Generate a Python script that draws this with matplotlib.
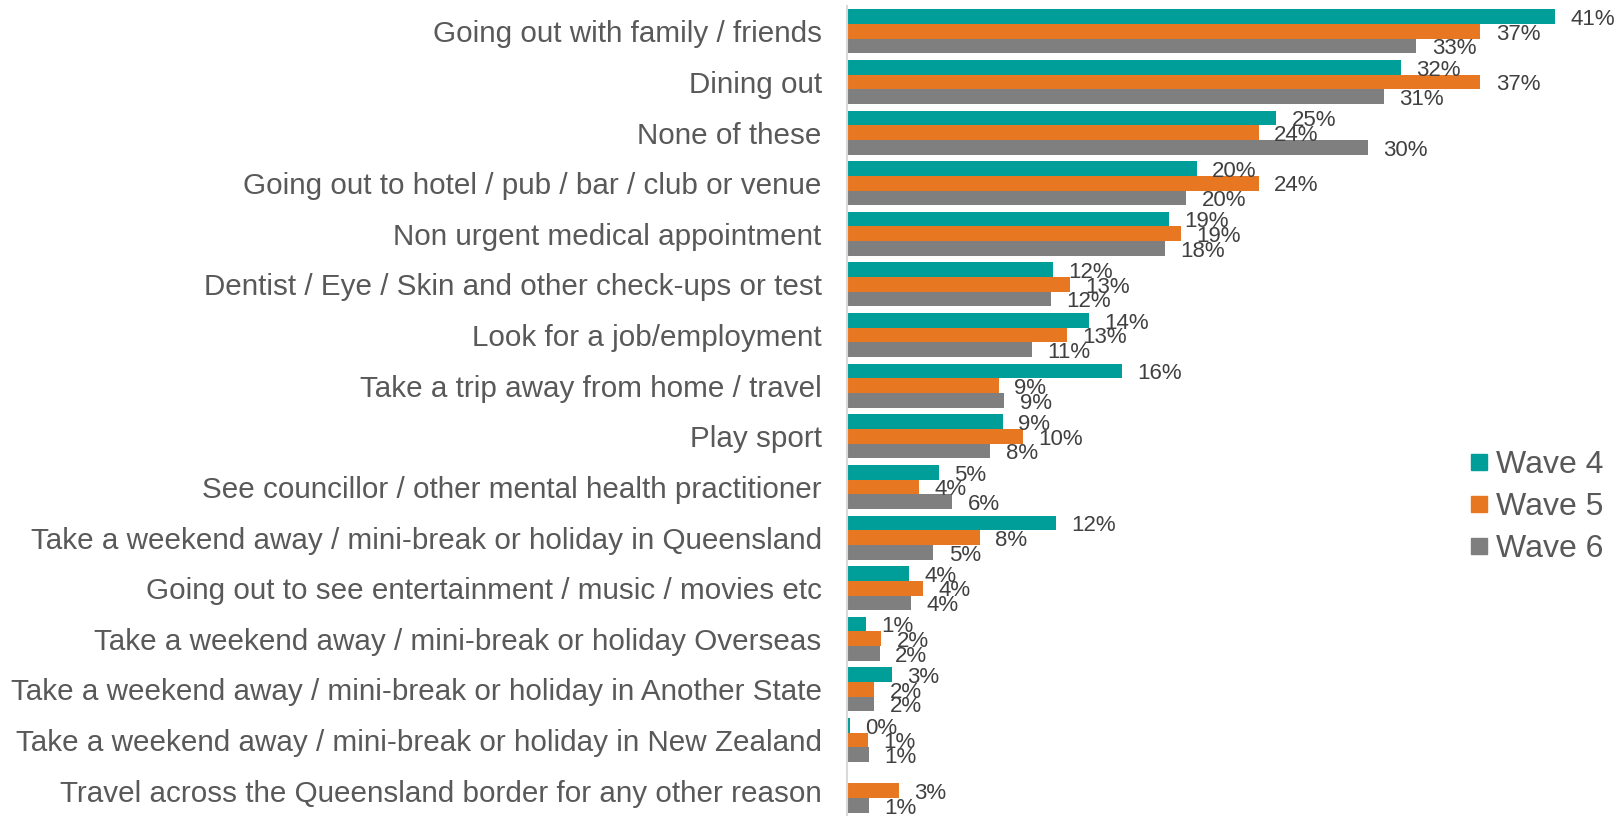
import numpy as np
import matplotlib
matplotlib.use("Agg")
import matplotlib.pyplot as plt
from matplotlib.lines import Line2D

plt.rcParams['font.family'] = ['Liberation Sans', 'DejaVu Sans']

categories = [
    "Going out with family / friends",
    "Dining out",
    "None of these",
    "Going out to hotel / pub / bar / club or venue",
    "Non urgent medical appointment",
    "Dentist / Eye / Skin and other check-ups or test",
    "Look for a job/employment",
    "Take a trip away from home / travel",
    "Play sport",
    "See councillor / other mental health practitioner",
    "Take a weekend away / mini-break or holiday in Queensland",
    "Going out to see entertainment / music / movies etc",
    "Take a weekend away / mini-break or holiday Overseas",
    "Take a weekend away / mini-break or holiday in Another State",
    "Take a weekend away / mini-break or holiday in New Zealand",
    "Travel across the Queensland border for any other reason",
]

# percentages per wave (None = not asked in that wave); labels show them rounded
wave4 = [40.9, 32.0, 24.8, 20.2, 18.6, 11.9, 14.0, 15.9, 9.0, 5.3, 12.1, 3.6,
         1.1, 2.6, 0.2, None]
wave5 = [36.6, 36.6, 23.8, 23.8, 19.3, 12.9, 12.7, 8.8, 10.2, 4.2, 7.7, 4.4,
         2.0, 1.6, 1.2, 3.0]
wave6 = [32.9, 31.0, 30.1, 19.6, 18.4, 11.8, 10.7, 9.1, 8.3, 6.1, 5.0, 3.7,
         1.9, 1.6, 1.3, 1.3]

series = [("Wave 4", wave4, "#009E99"),
          ("Wave 5", wave5, "#E87722"),
          ("Wave 6", wave6, "#7F7F7F")]

fig = plt.figure(figsize=(16.19, 8.16), dpi=100)
ax = fig.add_axes([0.523, 0.0, 0.477, 0.9926])

n = len(categories)
y = np.arange(n)
h = 0.29

for i, (name, vals, col) in enumerate(series):
    for j, v in enumerate(vals):
        if v is None:
            continue
        yy = y[j] + (i - 1) * h
        ax.barh(yy, v, height=h, color=col, linewidth=0)
        ax.annotate("%.0f%%" % v, (v, yy), xytext=(11, -2),
                    textcoords="offset points", va="center", ha="left",
                    fontsize=16, color="#404040")

ax.set_ylim(n - 0.5, -0.5)
ax.set_xlim(0, 44.6)
ax.set_yticks(y)
ax.set_yticklabels(categories, fontsize=21.3, color="#595959")
ax.tick_params(axis="y", length=0, pad=18)
ax.set_xticks([])
for s in ["top", "right", "bottom"]:
    ax.spines[s].set_visible(False)
ax.spines["left"].set_color("#D9D9D9")
ax.spines["left"].set_linewidth(1.5)

handles = [Line2D([], [], marker="s", linestyle="none", markersize=11.5,
                  color=col, label=name) for name, _, col in series]
fig.legend(handles=handles, loc="center left", bbox_to_anchor=(0.908, 0.379),
           frameon=False, fontsize=23, labelcolor="#595959",
           handlelength=0.55, handletextpad=0.26, labelspacing=0.375,
           borderpad=0, borderaxespad=0)

fig.savefig("out.png", dpi=100)
